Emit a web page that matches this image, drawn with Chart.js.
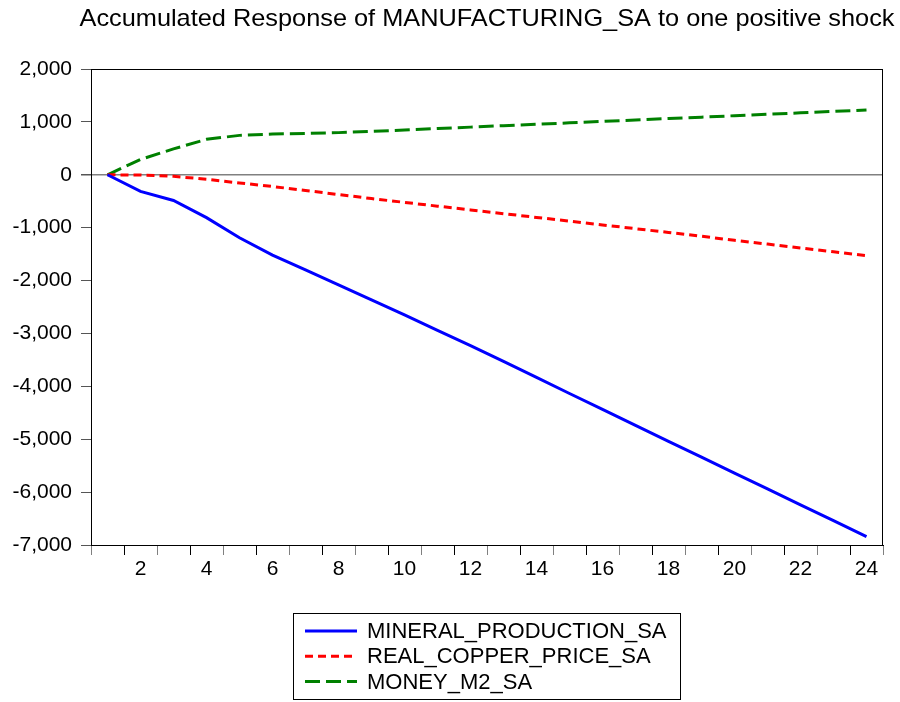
<!DOCTYPE html>
<html lang="en">
  <head>
    <meta charset="UTF-8" />
    <title>Accumulated Response of MANUFACTURING_SA</title>
    <script src="https://cdn.jsdelivr.net/npm/chart.js"></script>
    <style>
      html, body { margin: 0; padding: 0; background: #fff; }
      #wrap { width: 900px; height: 702px; position: relative; }
    </style>
  </head>
  <body>
    <div id="wrap"><canvas id="irfChart"></canvas></div>

<script>
// periods 1..24
const periods = ["1","2","3","4","5","6","7","8","9","10","11","12",
                 "13","14","15","16","17","18","19","20","21","22","23","24"];

// accumulated responses
const mineralProduction = [0, -315, -485, -810, -1190, -1520, -1800, -2080, -2365, -2650, -2940, -3230,
                           -3530, -3830, -4135, -4435, -4740, -5040, -5340, -5640, -5940, -6240, -6540, -6840];
const realCopperPrice = [0, -5, -30, -85, -155, -222, -297, -373, -450, -522, -593, -664,
                         -735, -806, -877, -948, -1019, -1090, -1161, -1240, -1310, -1385, -1455, -1530];
const moneyM2 = [0, 290, 490, 670, 745, 770, 782, 797, 820, 847, 874, 901,
                 928, 955, 982, 1009, 1036, 1063, 1090, 1117, 1144, 1171, 1198, 1225];

const seriesNames = ["MINERAL_PRODUCTION_SA", "REAL_COPPER_PRICE_SA", "MONEY_M2_SA"];
const yTicks = [2000, 1000, 0, -1000, -2000, -3000, -4000, -5000, -6000, -7000];

const titleText = "Accumulated Response of MANUFACTURING_SA to one positive shock";
const FONT = '"Liberation Sans", Arial, sans-serif';

// title + frame + legend box, drawn on top
const extras = {
  id: "extras",
  afterDraw(chart) {
    const { ctx, chartArea: a } = chart;
    ctx.save();
    // frame
    ctx.strokeStyle = "#000";
    ctx.lineWidth = 1;
    ctx.strokeRect(a.left + 0.5, a.top + 0.5, a.right - a.left - 1, a.bottom - a.top);

    // title, stretched to the width used by the original
    ctx.fillStyle = "#000";
    ctx.font = "24px " + FONT;
    ctx.textBaseline = "alphabetic";
    ctx.textAlign = "left";
    const w = ctx.measureText(titleText).width;
    const target = 815;
    const cx = (a.left + a.right) / 2;
    ctx.save();
    ctx.translate(cx - target / 2, 26);
    ctx.scale(target / w, 1);
    ctx.fillText(titleText, 0, 0);
    ctx.restore();

    // legend
    const bx = 293, by = 613, bw = 387, bh = 86;
    ctx.strokeStyle = "#000";
    ctx.lineWidth = 1;
    ctx.strokeRect(bx + 0.5, by + 0.5, bw, bh);
    ctx.font = "22px " + FONT;
    ctx.textBaseline = "middle";
    chart.data.datasets.forEach((ds, i) => {
      const y = 631 + i * 25.3;
      ctx.strokeStyle = ds.borderColor;
      ctx.lineWidth = 3;
      ctx.setLineDash(ds.borderDash || []);
      ctx.beginPath();
      ctx.moveTo(305, y);
      ctx.lineTo(357, y);
      ctx.stroke();
      ctx.setLineDash([]);
      ctx.fillStyle = "#000";
      ctx.fillText(ds.label, 367, y + 1);
    });
    ctx.restore();
  }
};

new Chart(document.getElementById("irfChart"), {
  type: "line",
  data: {
    labels: periods,
    datasets: [
      { label: seriesNames[0], data: mineralProduction, borderColor: "#0000ff", borderWidth: 3 },
      { label: seriesNames[1], data: realCopperPrice, borderColor: "#ff0000", borderWidth: 3, borderDash: [8, 5] },
      { label: seriesNames[2], data: moneyM2, borderColor: "#008000", borderWidth: 3, borderDash: [15, 6] }
    ]
  },
  options: {
    responsive: true,
    maintainAspectRatio: false,
    animation: false,
    elements: { point: { radius: 0 }, line: { tension: 0 } },
    layout: { padding: { left: 0, right: 17, top: 69, bottom: 116 } },
    plugins: {
      legend: { display: false },
      title: { display: false },
      tooltip: { enabled: false }
    },
    scales: {
      x: {
        type: "category",
        offset: true,
        border: { color: "#000", width: 1 },
        grid: {
          offset: true,
          drawOnChartArea: false,
          tickLength: 10,
          tickColor: ctx => (ctx.index % 2 === 1 ? "#000" : "#808080")
        },
        ticks: {
          autoSkip: false,
          maxRotation: 0,
          color: "#000",
          padding: 2,
          font: { family: FONT, size: 21 },
          callback: function (val, idx) {
            return (idx + 1) % 2 === 0 ? this.getLabelForValue(val) : "";
          }
        },
        afterFit: s => { s.height = 41; }
      },
      y: {
        min: -7000,
        max: 2000,
        border: { color: "#000", width: 1 },
        afterBuildTicks: s => { s.ticks = yTicks.map(v => ({ value: v })); },
        afterFit: s => { s.width = 91; },
        grid: {
          tickLength: 10,
          color: ctx => (ctx.tick && ctx.tick.value === 0 ? "#808080" : "rgba(0,0,0,0)"),
          lineWidth: ctx => (ctx.tick && ctx.tick.value === 0 ? 1.5 : 1),
          tickColor: "#555"
        },
        ticks: {
          color: "#000",
          padding: 9,
          font: { family: FONT, size: 21 },
          callback: v => v.toLocaleString("en-US")
        }
      }
    }
  },
  plugins: [extras]
});
</script>
  </body>
</html>
